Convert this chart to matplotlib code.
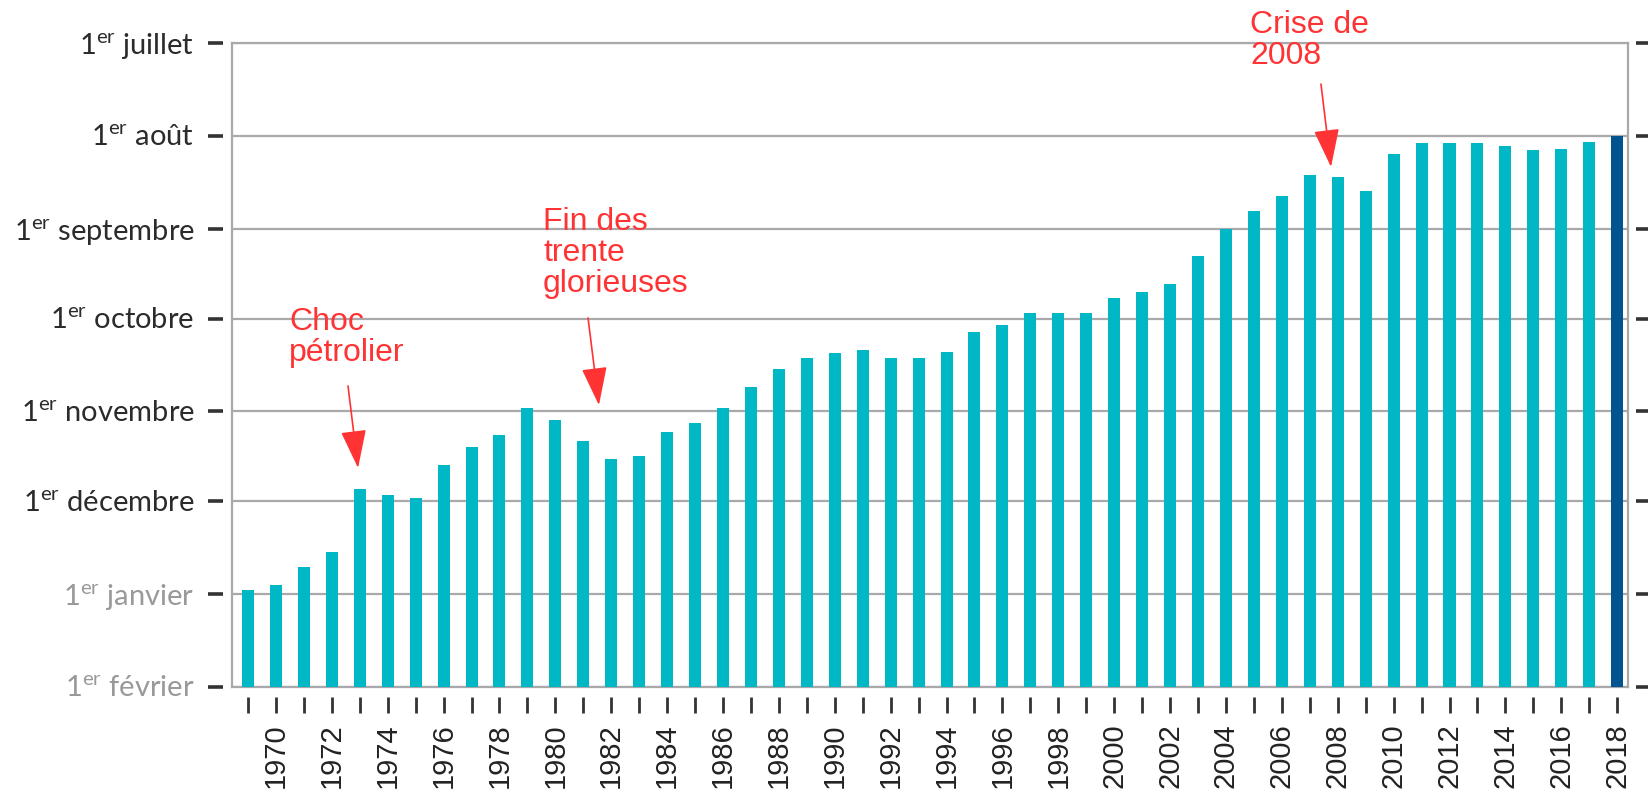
import matplotlib.pyplot as plt

# Jour du dépassement, exprimé en jour de l'année (366 = 1er janvier de l'année suivante)
years = list(range(1969, 2019))
days = [364.6, 363, 357, 352, 331, 333, 334, 323, 317, 313,
        304, 308, 315, 321, 320, 312, 309, 304, 297, 291,
        287, 285.5, 284.5, 287, 287, 285, 278.5, 276, 272, 272,
        272, 267, 265, 262.5, 253, 244, 238, 233, 226, 226.6,
        231.4, 219, 215.5, 215.5, 215.5, 216.4, 217.7, 217.3, 215, 213]

month_days = [182, 213, 244, 274, 305, 335, 366, 397]
month_names = ['juillet', 'août', 'septembre', 'octobre', 'novembre',
               'décembre', 'janvier', 'février']
xtick_years = list(range(1970, 2019, 2))

plt.rcParams['mathtext.fontset'] = 'custom'
plt.rcParams['mathtext.rm'] = 'Lato'

fig = plt.figure(figsize=(16.48, 7.94), dpi=100)
ax = fig.add_axes([0.1408, 0.1348, 0.8471, 0.811])

grey = '#a9a9ab'
teal = '#00b7c6'
dark_blue = '#00548f'

# bars grow from the bottom (1er février) up to the date
colors = [teal] * (len(years) - 1) + [dark_blue]
ax.bar(years, [d - 397 for d in days], bottom=397, width=0.43,
       color=colors, zorder=3)

ax.set_ylim(397, 182)
ax.set_xlim(1968.43, 2018.39)

# grid and frame
ax.set_yticks(month_days)
ax.grid(axis='y', color=grey, linewidth=1.6, zorder=1)
for s in ax.spines.values():
    s.set_color(grey)
    s.set_linewidth(1.6)

# y labels
labels = ['1$^{\\mathrm{er}}$ ' + m for m in month_names]
ax.set_yticklabels(labels, fontsize=21, family='Lato')
ax.tick_params(axis='y', length=0, pad=27)
for i, t in enumerate(ax.get_yticklabels()):
    t.set_color('#999999' if i >= 6 else '#2b2b2b')

# x labels
ax.set_xticks(xtick_years)
ax.set_xticklabels([str(y) for y in xtick_years], rotation=90,
                   fontsize=21, family='Liberation Sans', color='#222222')
ax.tick_params(axis='x', length=0, pad=26)

# detached tick marks
ytr = ax.get_yaxis_transform()
ax.hlines(month_days, -0.0172, -0.0064, transform=ytr, color='#333333',
          linewidth=2.6, clip_on=False)
ax.hlines(month_days, 1.0058, 1.02, transform=ytr, color='#333333',
          linewidth=2.6, clip_on=False)
xtr = ax.get_xaxis_transform()
ax.vlines(years, -0.0155, -0.0404, transform=xtr, color='#333333',
          linewidth=2, clip_on=False)

# annotations
red = '#ff3333'
notes = [
    ("Choc\npétrolier", (1970.47, 270), (1972.58, 296.5), (1972.94, 323.9)),
    ("Fin des\ntrente\nglorieuses", (1979.56, 236.8), (1981.17, 273.8), (1981.56, 302.9)),
    ("Crise de\n2008", (2004.86, 171), (2007.40, 195.7), (2007.76, 223.4)),
]
for text, pos, start, tip in notes:
    ax.text(pos[0], pos[1], text, color=red, fontsize=23,
            family='Liberation Sans', ha='left', va='top',
            linespacing=1.05, zorder=5, clip_on=False)
    ax.annotate('', xy=tip, xytext=start,
                arrowprops=dict(arrowstyle='-|>,head_width=0.4,head_length=1.2',
                                mutation_scale=20, color=red, lw=1.2,
                                shrinkA=0, shrinkB=0),
                zorder=5, annotation_clip=False)

fig.savefig('out.png', dpi=100)
